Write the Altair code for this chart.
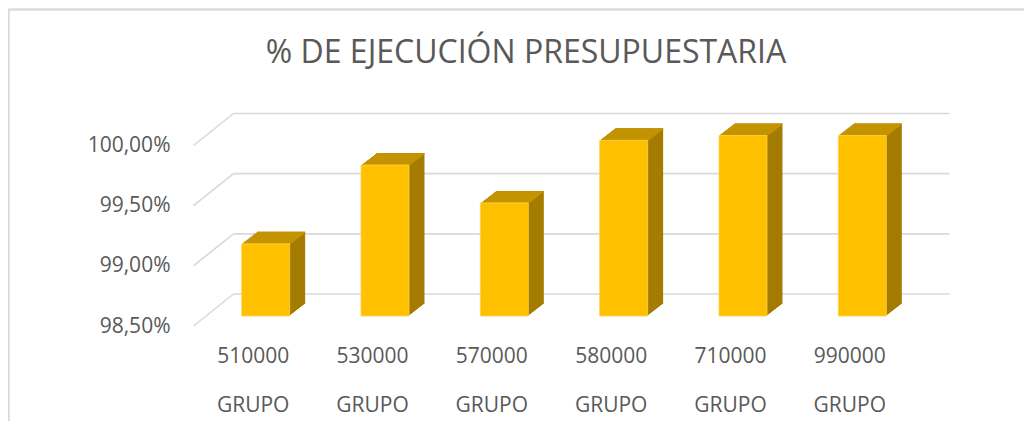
import altair as alt
import pandas as pd

# ---- data ----
categories = ["510000 GRUPO", "530000 GRUPO", "570000 GRUPO",
              "580000 GRUPO", "710000 GRUPO", "990000 GRUPO"]
values = [99.10, 99.755, 99.44, 99.96, 100.00, 100.00]
tick_values = [98.5, 99.0, 99.5, 100.0]
base_value = 98.5
title_text = ["% DE EJECUCIÓN PRESUPUESTARIA"]

df = pd.DataFrame({"cat": categories, "val": values, "base": [base_value] * len(values)})
grid_df = pd.DataFrame({"t": tick_values})
title_df = pd.DataFrame({"title": title_text})

# ---- styling / geometry ----
FONT = "Open Sans"
TXT = "#595959"
GRID = "#D9D9D9"
FRONT = "#FFC000"
TOP = "#C49400"
SIDE = "#A47C00"

W, H = 716, 180.5
PAD_L, PAD_T, PAD_R, PAD_B = 198, 127.5, 102, 105
DEPTH_X, DEPTH_Y = 15.5, 12.0      # 3D bar depth (px)
WALL_DX, WALL_DY = 27.5, 22.0     # back wall offset (px)
N = 12

xscale = alt.Scale(domain=categories, paddingInner=0.598, paddingOuter=0.299)
xaxis = alt.Axis(title=None, domain=False, ticks=False, labelAngle=0,
                 labelExpr="split(datum.value, ' ')", labelLineHeight=49,
                 labelPadding=29, labelOffset=-12.5, labelFont=FONT,
                 labelFontSize=21, labelColor=TXT)
yscale = alt.Scale(domain=[98.5, 100.0], nice=False, zero=False)
yaxis = alt.Axis(title=None, domain=False, ticks=False, grid=False,
                 values=tick_values, labelPadding=36, labelOffset=10,
                 labelExpr="replace(format(datum.value, '.2f'), '.', ',') + '%'",
                 labelFont=FONT, labelFontSize=21, labelColor=TXT)

xs = alt.X("cat:N", sort=categories, scale=xscale, axis=xaxis)
ys = alt.Y("val:Q", scale=yscale, axis=yaxis)

layers = []

# frame (top and left edge of the chart area)
layers.append(alt.Chart(grid_df).mark_rule(color=GRID, strokeWidth=1.5).encode(
    x=alt.value(8.5 - 8 - PAD_L), x2=alt.value(W + PAD_R + 5), y=alt.value(9.5 - 8 - PAD_T)))
layers.append(alt.Chart(grid_df).mark_rule(color=GRID, strokeWidth=1.5).encode(
    x=alt.value(8.5 - 8 - PAD_L), y=alt.value(9.5 - 8 - PAD_T), y2=alt.value(H + PAD_B + 5)))

# title
layers.append(alt.Chart(title_df).mark_text(font=FONT, fontSize=32, color=TXT,
                                            align="center", baseline="alphabetic").encode(
    text="title:N", x=alt.value(526 - 8 - PAD_L), y=alt.value(63 - 8 - PAD_T)))

# gridlines: back wall + floor diagonals
layers.append(alt.Chart(grid_df).mark_rule(color=GRID, strokeWidth=1.6, yOffset=-WALL_DY).encode(
    y=alt.Y("t:Q", scale=yscale, axis=yaxis),
    x=alt.value(WALL_DX), x2=alt.value(W + WALL_DX)))
layers.append(alt.Chart(grid_df).mark_rule(color=GRID, strokeWidth=1.6,
                                           yOffset=10, y2Offset=-WALL_DY).encode(
    y=alt.Y("t:Q", scale=yscale, axis=yaxis), y2="t:Q",
    x=alt.value(-12.5), x2=alt.value(WALL_DX)))

# side faces (extrusion)
for i in range(N, 0, -1):
    ox, oy = i * DEPTH_X / N, -i * DEPTH_Y / N
    layers.append(alt.Chart(df).mark_bar(color=SIDE, strokeWidth=0,
                                         xOffset=ox, yOffset=oy, y2Offset=oy).encode(
        x=xs, y=ys, y2="base:Q"))

# top faces
for i in range(1, N + 1):
    ox, oy = i * DEPTH_X / N, -i * DEPTH_Y / N
    layers.append(alt.Chart(df).mark_bar(color=TOP, strokeWidth=0,
                                         xOffset=ox, yOffset=oy, y2Offset=oy + 1.4).encode(
        x=xs, y=ys, y2="val:Q"))

# front faces
layers.append(alt.Chart(df).mark_bar(color=FRONT, stroke="#FFD24D", strokeWidth=0.8).encode(
    x=xs, y=ys, y2="base:Q"))

chart = alt.layer(*layers).properties(
    width=W, height=H,
    autosize=alt.AutoSizeParams(type="none"),
    padding={"left": PAD_L, "top": PAD_T, "right": PAD_R, "bottom": PAD_B},
).configure_view(stroke=None)

chart.save("out.html", embed_options={"renderer": "svg", "actions": False})
